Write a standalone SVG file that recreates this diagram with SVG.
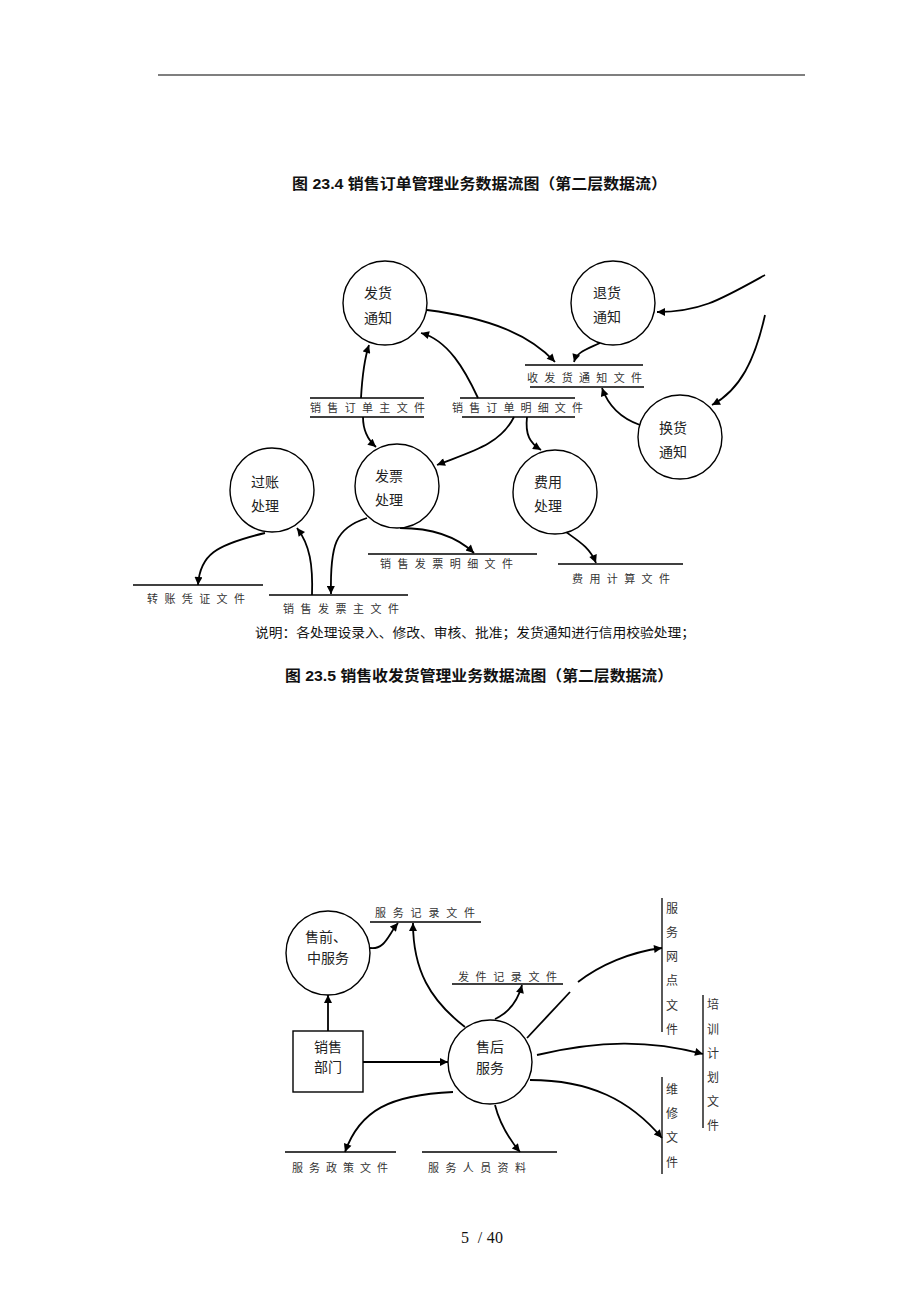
<svg xmlns="http://www.w3.org/2000/svg" width="920" height="1302" viewBox="0 0 920 1302">
<defs>
<marker id="ah" viewBox="0 0 10 10" refX="10" refY="5" markerWidth="10" markerHeight="8" markerUnits="userSpaceOnUse" orient="auto"><path d="M0,0 L10,5 L0,10 z" fill="#000"/></marker>
<style>
.nd{fill:#fff;stroke:#000;stroke-width:1.4}
.ln{stroke:#000;stroke-width:1.3;fill:none}
.cn{stroke:#000;stroke-width:1.8;fill:none;marker-end:url(#ah)}
.cp{stroke:#000;stroke-width:1.8;fill:none}
.t{font-family:"Liberation Serif","Noto Sans CJK SC",serif;font-size:14px;fill:#222;text-anchor:middle}
.f{font-family:"Liberation Serif","Noto Sans CJK SC",serif;font-size:11px;fill:#333}
.fv{font-family:"Liberation Serif","Noto Sans CJK SC",serif;font-size:12px;fill:#333;text-anchor:middle}
.h{font-family:"Liberation Sans","Noto Sans CJK SC",sans-serif;font-size:15px;font-weight:bold;fill:#111}
.n{font-family:"Liberation Serif","Noto Sans CJK SC",serif;font-size:13px;fill:#111}
</style>
</defs>
<rect width="920" height="1302" fill="#fff"/>
<line x1="158" y1="75" x2="805" y2="75" stroke="#000" stroke-width="1.2"/>
<text class="h" x="292" y="189" textLength="375" lengthAdjust="spacingAndGlyphs">图 23.4 销售订单管理业务数据流图（第二层数据流）</text>

<g id="connectors">
<path class="cn" d="M427,310 C490,318 530,335 555,362"/>
<path class="cn" d="M600,343 C585,350 577,352 574,362"/>
<path class="cn" d="M765,275 C720,300 700,312 657,312"/>
<path class="cn" d="M765,315 C755,360 740,390 712,405"/>
<path class="cn" d="M640,425 C620,418 608,405 602,388"/>
<path class="cn" d="M361,398 C362,380 364,360 369,345"/>
<path class="cn" d="M478,398 C465,370 448,340 421,333"/>
<path class="cn" d="M363,417 C363,430 368,440 376,447"/>
<path class="cn" d="M514,417 C500,445 470,452 437,465"/>
<path class="cn" d="M527,417 C525,435 530,443 541,450"/>
<path class="cn" d="M566,532 C580,542 590,548 596,563"/>
<path class="cn" d="M400,528 C430,528 455,535 474,553"/>
<path class="cn" d="M367,518 C335,528 330,545 331,594"/>
<path class="cn" d="M312,595 C313,565 310,545 297,528"/>
<path class="cn" d="M265,533 C215,545 200,555 198,585"/>

<path class="cn" d="M328,1031 L328,995"/>
<path class="cn" d="M363,1062 L448,1062"/>
<path class="cn" d="M370,948 C385,950 388,935 398,923"/>
<path class="cn" d="M465,1027 C430,1000 413,970 413,923"/>
<path class="cn" d="M495,1019 C510,1012 518,1000 522,985"/>
<path class="cp" d="M527,1038 L570,992"/>
<path class="cn" d="M578,982 C600,965 630,952 662,948"/>
<path class="cn" d="M537,1055 C600,1040 650,1040 703,1054"/>
<path class="cn" d="M530,1080 C590,1080 630,1100 662,1138"/>
<path class="cn" d="M495,1105 C500,1125 510,1140 520,1152"/>
<path class="cn" d="M453,1092 C390,1095 360,1110 345,1152"/>
</g>

<g id="n-fahuo"><circle class="nd" cx="385" cy="303" r="42"/><text class="t" x="378" y="298">发货</text><text class="t" x="378" y="323">通知</text></g>
<g id="n-tuihuo"><circle class="nd" cx="613" cy="303" r="42"/><text class="t" x="607" y="298">退货</text><text class="t" x="607" y="322">通知</text></g>
<g id="n-huanhuo"><circle class="nd" cx="680" cy="437" r="42"/><text class="t" x="673" y="433">换货</text><text class="t" x="673" y="457">通知</text></g>
<g id="n-feiyong"><circle class="nd" cx="555" cy="492" r="42"/><text class="t" x="548" y="487">费用</text><text class="t" x="548" y="511">处理</text></g>
<g id="n-fapiao"><circle class="nd" cx="397" cy="486" r="42"/><text class="t" x="389" y="481">发票</text><text class="t" x="389" y="505">处理</text></g>
<g id="n-guozhang"><circle class="nd" cx="272" cy="490" r="42"/><text class="t" x="265" y="487">过账</text><text class="t" x="265" y="511">处理</text></g>

<g id="s-shoufahuo"><line class="ln" x1="525" y1="365" x2="643" y2="365"/><line class="ln" x1="530" y1="387" x2="644" y2="387"/><text class="f" x="527" y="382" textLength="115" lengthAdjust="spacing">收发货通知文件</text></g>
<g id="s-dingdanzhu"><line class="ln" x1="310" y1="398" x2="424" y2="398"/><line class="ln" x1="310" y1="417" x2="424" y2="417"/><text class="f" x="310" y="412" textLength="115" lengthAdjust="spacing">销售订单主文件</text></g>
<g id="s-dingdanmx"><line class="ln" x1="460" y1="398" x2="575" y2="398"/><line class="ln" x1="462" y1="417" x2="575" y2="417"/><text class="f" x="452" y="412" textLength="131" lengthAdjust="spacing">销售订单明细文件</text></g>
<g id="s-fapiaomx"><line class="ln" x1="368" y1="554" x2="537" y2="554"/><text class="f" x="380" y="568" textLength="133" lengthAdjust="spacing">销售发票明细文件</text></g>
<g id="s-zhuanzhang"><line class="ln" x1="133" y1="585" x2="263" y2="585"/><text class="f" x="147" y="603" textLength="98" lengthAdjust="spacing">转账凭证文件</text></g>
<g id="s-fapiaozhu"><line class="ln" x1="269" y1="595" x2="408" y2="595"/><text class="f" x="283" y="613" textLength="116" lengthAdjust="spacing">销售发票主文件</text></g>
<g id="s-feiyongjs"><line class="ln" x1="558" y1="564" x2="683" y2="564"/><text class="f" x="572" y="583" textLength="98" lengthAdjust="spacing">费用计算文件</text></g>

<text class="n" x="255" y="637" textLength="440" lengthAdjust="spacingAndGlyphs">说明：各处理设录入、修改、审核、批准；发货通知进行信用校验处理；</text>
<text class="h" x="285" y="681" textLength="388" lengthAdjust="spacingAndGlyphs">图 23.5 销售收发货管理业务数据流图（第二层数据流）</text>

<g id="n-shouqian"><circle class="nd" cx="328" cy="953" r="42"/><text class="t" x="326" y="942">售前、</text><text class="t" x="328" y="963">中服务</text></g>
<g id="n-xiaoshou"><rect class="nd" x="293" y="1031" width="70" height="61"/><text class="t" x="328" y="1052">销售</text><text class="t" x="328" y="1072">部门</text></g>
<g id="n-shouhou"><circle class="nd" cx="490" cy="1062" r="42"/><text class="t" x="490" y="1052">售后</text><text class="t" x="490" y="1073">服务</text></g>

<g id="s-fuwujl"><line class="ln" x1="370" y1="922" x2="481" y2="922"/><text class="f" x="375" y="917" textLength="100" lengthAdjust="spacing">服务记录文件</text></g>
<g id="s-fajian"><line class="ln" x1="452" y1="984" x2="563" y2="984"/><text class="f" x="458" y="981" textLength="99" lengthAdjust="spacing">发件记录文件</text></g>
<g id="s-zhengce"><line class="ln" x1="285" y1="1152" x2="396" y2="1152"/><text class="f" x="292" y="1172" textLength="96" lengthAdjust="spacing">服务政策文件</text></g>
<g id="s-renyuan"><line class="ln" x1="422" y1="1152" x2="557" y2="1152"/><text class="f" x="428" y="1172" textLength="98" lengthAdjust="spacing">服务人员资料</text></g>
<g id="s-wangdian"><line class="ln" x1="662" y1="898" x2="662" y2="1032"/>
<text class="fv" x="672" y="913">服</text><text class="fv" x="672" y="937">务</text><text class="fv" x="672" y="961">网</text><text class="fv" x="672" y="985">点</text><text class="fv" x="672" y="1010">文</text><text class="fv" x="672" y="1034">件</text></g>
<g id="s-peixun"><line class="ln" x1="703" y1="995" x2="703" y2="1128"/>
<text class="fv" x="713" y="1009">培</text><text class="fv" x="713" y="1034">训</text><text class="fv" x="713" y="1058">计</text><text class="fv" x="713" y="1082">划</text><text class="fv" x="713" y="1106">文</text><text class="fv" x="713" y="1130">件</text></g>
<g id="s-weixiu"><line class="ln" x1="662" y1="1077" x2="662" y2="1174"/>
<text class="fv" x="672" y="1094">维</text><text class="fv" x="672" y="1118">修</text><text class="fv" x="672" y="1142">文</text><text class="fv" x="672" y="1167">件</text></g>

<text x="461" y="1243" font-family="Liberation Serif, serif" font-size="16" fill="#111" textLength="42" lengthAdjust="spacing" xml:space="preserve">5  / 40</text>
</svg>
